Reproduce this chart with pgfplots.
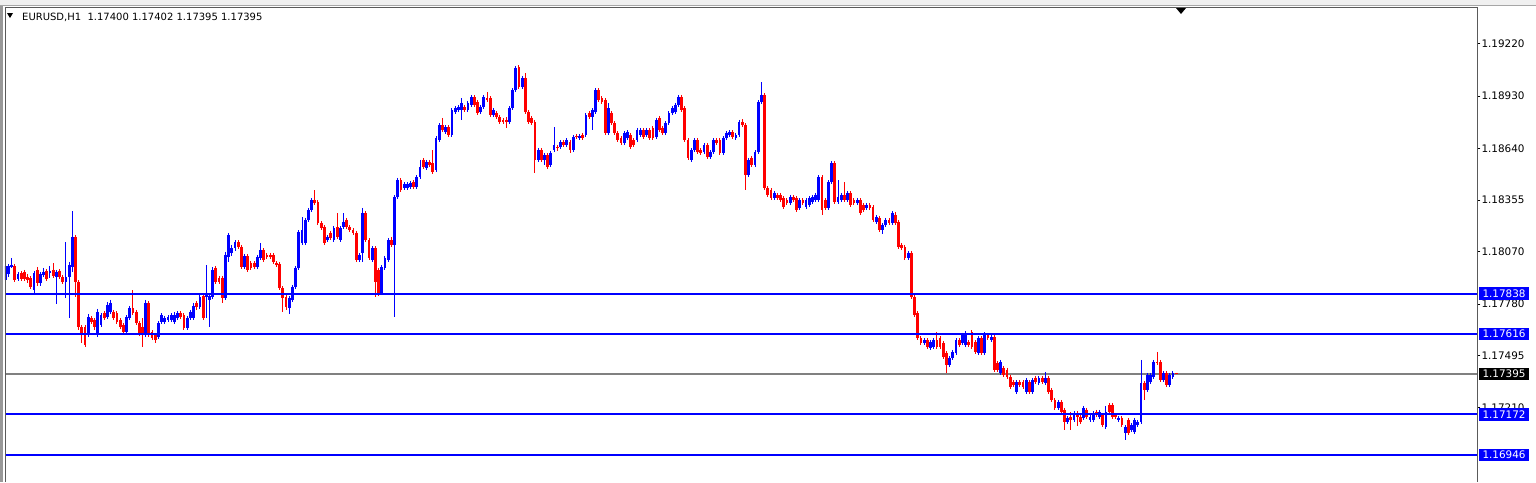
\documentclass[border=0pt]{standalone}
\usepackage{fontspec}
\setmainfont{DejaVu Sans}
\usepackage{pgfplots}
\pgfplotsset{compat=1.18}
\usepackage{pgfplotstable}
\definecolor{mtblue}{RGB}{0,0,255}
\definecolor{lvlblue}{RGB}{0,0,255}
\definecolor{mtred}{RGB}{255,0,0}
\definecolor{bidgray}{RGB}{128,128,128}
\definecolor{framegray}{RGB}{90,90,90}
\pgfplotstableread{
n o h l c
1 1.17913 1.18013 1.17897 1.17991
2 1.17947 1.18002 1.17930 1.17991
3 1.17985 1.18035 1.17980 1.17996
4 1.17991 1.18002 1.17902 1.17913
5 1.17919 1.17958 1.17908 1.17947
6 1.17952 1.17963 1.17908 1.17919
7 1.17958 1.17969 1.17908 1.17919
8 1.17930 1.17947 1.17897 1.17913
9 1.17925 1.17936 1.17864 1.17875
10 1.17858 1.17963 1.17842 1.17952
11 1.17969 1.17985 1.17880 1.17897
12 1.17897 1.17958 1.17880 1.17947
13 1.17941 1.17980 1.17930 1.17958
14 1.17963 1.17974 1.17908 1.17919
15 1.17952 1.17991 1.17925 1.17963
16 1.17969 1.18007 1.17925 1.17936
17 1.17930 1.17969 1.17781 1.17958
18 1.17963 1.17974 1.17919 1.17930
19 1.17930 1.17941 1.17891 1.17902
20 1.17902 1.18123 1.17814 1.17930
21 1.17930 1.18013 1.17704 1.17996
22 1.17985 1.18294 1.17958 1.18151
23 1.18151 1.18162 1.17820 1.17902
24 1.17902 1.17913 1.17637 1.17654
25 1.17654 1.17665 1.17566 1.17610
26 1.17654 1.17665 1.17544 1.17555
27 1.17610 1.17726 1.17599 1.17709
28 1.17704 1.17715 1.17671 1.17682
29 1.17693 1.17704 1.17637 1.17654
30 1.17610 1.17754 1.17599 1.17737
31 1.17665 1.17731 1.17654 1.17720
32 1.17731 1.17742 1.17693 1.17704
33 1.17709 1.17792 1.17698 1.17776
34 1.17737 1.17803 1.17726 1.17787
35 1.17737 1.17748 1.17693 1.17704
36 1.17731 1.17742 1.17671 1.17682
37 1.17693 1.17704 1.17643 1.17654
38 1.17665 1.17676 1.17615 1.17626
39 1.17626 1.17720 1.17610 1.17709
40 1.17704 1.17770 1.17693 1.17759
41 1.17759 1.17858 1.17720 1.17731
42 1.17737 1.17748 1.17665 1.17676
43 1.17676 1.17687 1.17604 1.17621
44 1.17654 1.17704 1.17544 1.17610
45 1.17610 1.17803 1.17599 1.17787
46 1.17787 1.17798 1.17599 1.17610
47 1.17626 1.17637 1.17582 1.17593
48 1.17610 1.17621 1.17566 1.17582
49 1.17599 1.17687 1.17588 1.17676
50 1.17682 1.17731 1.17671 1.17720
51 1.17682 1.17715 1.17671 1.17704
52 1.17693 1.17720 1.17682 1.17709
53 1.17693 1.17731 1.17682 1.17720
54 1.17682 1.17737 1.17671 1.17720
55 1.17704 1.17742 1.17693 1.17731
56 1.17731 1.17742 1.17698 1.17709
57 1.17720 1.17731 1.17637 1.17649
58 1.17649 1.17715 1.17637 1.17704
59 1.17704 1.17748 1.17693 1.17737
60 1.17704 1.17787 1.17693 1.17770
61 1.17787 1.17798 1.17748 1.17765
62 1.17765 1.17836 1.17754 1.17820
63 1.17825 1.17836 1.17693 1.17704
64 1.17820 1.17996 1.17704 1.17836
65 1.17803 1.17836 1.17654 1.17825
66 1.17820 1.17985 1.17809 1.17969
67 1.17980 1.17991 1.17891 1.17902
68 1.17925 1.17936 1.17891 1.17902
69 1.17925 1.17936 1.17787 1.17814
70 1.17814 1.18068 1.17803 1.18052
71 1.18041 1.18173 1.18013 1.18162
72 1.18063 1.18107 1.18046 1.18090
73 1.18090 1.18134 1.18074 1.18123
74 1.18123 1.18134 1.18085 1.18096
75 1.18096 1.18107 1.17974 1.17985
76 1.17985 1.18057 1.17974 1.18046
77 1.18046 1.18057 1.17958 1.17969
78 1.18007 1.18018 1.17969 1.17980
79 1.18007 1.18018 1.17974 1.17985
80 1.17985 1.18052 1.17974 1.18041
81 1.18035 1.18118 1.18024 1.18079
82 1.18079 1.18090 1.18013 1.18024
83 1.18052 1.18063 1.18030 1.18041
84 1.18052 1.18063 1.18030 1.18041
85 1.18052 1.18063 1.18002 1.18013
86 1.18007 1.18018 1.17985 1.17996
87 1.18002 1.18013 1.17858 1.17869
88 1.17869 1.17880 1.17737 1.17814
89 1.17820 1.17831 1.17748 1.17765
90 1.17759 1.17825 1.17726 1.17814
91 1.17803 1.17886 1.17792 1.17875
92 1.17875 1.17991 1.17864 1.17980
93 1.17980 1.18189 1.17969 1.18178
94 1.18118 1.18261 1.18107 1.18189
95 1.18118 1.18256 1.18107 1.18245
96 1.18245 1.18311 1.18234 1.18300
97 1.18300 1.18366 1.18289 1.18355
98 1.18355 1.18410 1.18327 1.18339
99 1.18344 1.18355 1.18217 1.18228
100 1.18228 1.18239 1.18189 1.18201
101 1.18206 1.18217 1.18107 1.18118
102 1.18134 1.18162 1.18123 1.18151
103 1.18173 1.18184 1.18134 1.18145
104 1.18134 1.18212 1.18123 1.18201
105 1.18206 1.18283 1.18140 1.18151
106 1.18134 1.18212 1.18123 1.18201
107 1.18206 1.18283 1.18195 1.18234
108 1.18245 1.18256 1.18195 1.18206
109 1.18206 1.18217 1.18178 1.18189
110 1.18189 1.18201 1.18162 1.18173
111 1.18173 1.18184 1.18013 1.18024
112 1.18024 1.18063 1.18013 1.18052
113 1.18063 1.18311 1.18013 1.18283
114 1.18283 1.18294 1.18123 1.18134
115 1.18134 1.18145 1.18024 1.18035
116 1.18024 1.18101 1.18013 1.18090
117 1.18090 1.18101 1.17820 1.17902
118 1.17969 1.17980 1.17825 1.17842
119 1.17842 1.17996 1.17831 1.17985
120 1.17980 1.18046 1.17969 1.18035
121 1.18024 1.18145 1.18013 1.18134
122 1.18134 1.18151 1.18096 1.18107
123 1.18107 1.18383 1.17709 1.18372
124 1.18372 1.18477 1.18361 1.18465
125 1.18465 1.18477 1.18399 1.18410
126 1.18421 1.18454 1.18410 1.18443
127 1.18421 1.18454 1.18410 1.18443
128 1.18427 1.18460 1.18416 1.18449
129 1.18454 1.18465 1.18416 1.18427
130 1.18427 1.18493 1.18416 1.18482
131 1.18482 1.18576 1.18471 1.18537
132 1.18576 1.18587 1.18526 1.18537
133 1.18532 1.18576 1.18521 1.18565
134 1.18565 1.18576 1.18537 1.18548
135 1.18559 1.18631 1.18499 1.18510
136 1.18521 1.18708 1.18510 1.18697
137 1.18686 1.18780 1.18675 1.18769
138 1.18769 1.18808 1.18730 1.18741
139 1.18730 1.18769 1.18719 1.18758
140 1.18758 1.18769 1.18703 1.18714
141 1.18714 1.18863 1.18703 1.18852
142 1.18841 1.18874 1.18830 1.18863
143 1.18852 1.18880 1.18841 1.18869
144 1.18852 1.18918 1.18797 1.18891
145 1.18869 1.18880 1.18841 1.18852
146 1.18852 1.18902 1.18841 1.18891
147 1.18880 1.18935 1.18869 1.18924
148 1.18924 1.18935 1.18869 1.18880
149 1.18896 1.18907 1.18824 1.18835
150 1.18841 1.18880 1.18830 1.18869
151 1.18869 1.18935 1.18858 1.18924
152 1.18918 1.18951 1.18896 1.18907
153 1.18918 1.18929 1.18813 1.18824
154 1.18824 1.18863 1.18813 1.18852
155 1.18835 1.18846 1.18802 1.18813
156 1.18813 1.18824 1.18775 1.18786
157 1.18797 1.18808 1.18775 1.18786
158 1.18797 1.18813 1.18753 1.18786
159 1.18786 1.18874 1.18775 1.18863
160 1.18863 1.18973 1.18852 1.18962
161 1.18962 1.19095 1.18951 1.19084
162 1.19089 1.19100 1.18968 1.18979
163 1.18979 1.19040 1.18968 1.19029
164 1.19029 1.19056 1.18830 1.18841
165 1.18841 1.18852 1.18775 1.18786
166 1.18808 1.18819 1.18769 1.18780
167 1.18786 1.18797 1.18504 1.18576
168 1.18576 1.18642 1.18565 1.18631
169 1.18631 1.18642 1.18565 1.18576
170 1.18576 1.18615 1.18548 1.18604
171 1.18604 1.18615 1.18526 1.18537
172 1.18548 1.18626 1.18537 1.18615
173 1.18631 1.18758 1.18620 1.18659
174 1.18648 1.18659 1.18626 1.18642
175 1.18648 1.18686 1.18637 1.18675
176 1.18675 1.18686 1.18648 1.18659
177 1.18659 1.18697 1.18648 1.18686
178 1.18675 1.18686 1.18615 1.18631
179 1.18631 1.18714 1.18620 1.18703
180 1.18708 1.18719 1.18692 1.18703
181 1.18697 1.18719 1.18686 1.18708
182 1.18714 1.18725 1.18686 1.18697
183 1.18714 1.18835 1.18703 1.18824
184 1.18835 1.18846 1.18802 1.18813
185 1.18813 1.18863 1.18741 1.18852
186 1.18841 1.18973 1.18830 1.18962
187 1.18962 1.18973 1.18896 1.18907
188 1.18918 1.18929 1.18885 1.18896
189 1.18907 1.18918 1.18714 1.18725
190 1.18725 1.18891 1.18714 1.18863
191 1.18835 1.18846 1.18769 1.18780
192 1.18780 1.18791 1.18714 1.18725
193 1.18725 1.18736 1.18675 1.18686
194 1.18697 1.18708 1.18659 1.18670
195 1.18670 1.18736 1.18659 1.18725
196 1.18697 1.18741 1.18686 1.18730
197 1.18714 1.18725 1.18637 1.18648
198 1.18686 1.18697 1.18648 1.18659
199 1.18686 1.18753 1.18675 1.18741
200 1.18714 1.18753 1.18703 1.18741
201 1.18741 1.18753 1.18692 1.18703
202 1.18714 1.18753 1.18703 1.18741
203 1.18741 1.18753 1.18686 1.18697
204 1.18753 1.18764 1.18686 1.18697
205 1.18703 1.18808 1.18692 1.18797
206 1.18808 1.18819 1.18730 1.18741
207 1.18753 1.18764 1.18714 1.18725
208 1.18725 1.18791 1.18714 1.18780
209 1.18780 1.18846 1.18769 1.18835
210 1.18835 1.18874 1.18824 1.18863
211 1.18841 1.18891 1.18830 1.18880
212 1.18880 1.18935 1.18869 1.18924
213 1.18924 1.18935 1.18841 1.18852
214 1.18863 1.18874 1.18675 1.18686
215 1.18686 1.18697 1.18576 1.18587
216 1.18576 1.18642 1.18565 1.18631
217 1.18631 1.18697 1.18620 1.18686
218 1.18686 1.18697 1.18609 1.18620
219 1.18631 1.18642 1.18604 1.18615
220 1.18620 1.18670 1.18609 1.18659
221 1.18659 1.18670 1.18582 1.18593
222 1.18593 1.18631 1.18582 1.18620
223 1.18620 1.18697 1.18609 1.18686
224 1.18686 1.18697 1.18659 1.18670
225 1.18686 1.18697 1.18604 1.18615
226 1.18615 1.18708 1.18604 1.18697
227 1.18697 1.18736 1.18686 1.18725
228 1.18714 1.18741 1.18703 1.18730
229 1.18730 1.18741 1.18692 1.18703
230 1.18697 1.18725 1.18686 1.18714
231 1.18714 1.18797 1.18703 1.18786
232 1.18786 1.18802 1.18758 1.18769
233 1.18769 1.18780 1.18410 1.18493
234 1.18493 1.18587 1.18482 1.18576
235 1.18587 1.18598 1.18537 1.18548
236 1.18548 1.18631 1.18537 1.18620
237 1.18620 1.18907 1.18609 1.18896
238 1.18896 1.19006 1.18885 1.18935
239 1.18935 1.18946 1.18410 1.18421
240 1.18421 1.18432 1.18372 1.18383
241 1.18410 1.18421 1.18355 1.18366
242 1.18366 1.18405 1.18355 1.18394
243 1.18383 1.18394 1.18355 1.18366
244 1.18383 1.18394 1.18344 1.18355
245 1.18366 1.18377 1.18305 1.18316
246 1.18355 1.18366 1.18327 1.18339
247 1.18339 1.18383 1.18327 1.18372
248 1.18372 1.18383 1.18344 1.18355
249 1.18366 1.18377 1.18289 1.18300
250 1.18311 1.18366 1.18300 1.18355
251 1.18355 1.18366 1.18327 1.18339
252 1.18316 1.18366 1.18305 1.18355
253 1.18327 1.18377 1.18316 1.18366
254 1.18344 1.18383 1.18333 1.18372
255 1.18355 1.18394 1.18344 1.18383
256 1.18355 1.18493 1.18344 1.18482
257 1.18482 1.18493 1.18272 1.18300
258 1.18355 1.18366 1.18300 1.18311
259 1.18311 1.18465 1.18300 1.18454
260 1.18454 1.18570 1.18443 1.18559
261 1.18559 1.18570 1.18333 1.18344
262 1.18344 1.18465 1.18333 1.18372
263 1.18355 1.18394 1.18344 1.18383
264 1.18383 1.18454 1.18344 1.18355
265 1.18355 1.18405 1.18344 1.18394
266 1.18394 1.18405 1.18316 1.18327
267 1.18355 1.18366 1.18327 1.18339
268 1.18339 1.18366 1.18327 1.18355
269 1.18355 1.18366 1.18272 1.18283
270 1.18327 1.18339 1.18289 1.18300
271 1.18311 1.18339 1.18300 1.18327
272 1.18327 1.18339 1.18300 1.18311
273 1.18316 1.18327 1.18234 1.18245
274 1.18234 1.18272 1.18223 1.18261
275 1.18256 1.18267 1.18178 1.18189
276 1.18189 1.18228 1.18167 1.18217
277 1.18217 1.18256 1.18206 1.18245
278 1.18245 1.18256 1.18217 1.18228
279 1.18228 1.18294 1.18217 1.18283
280 1.18272 1.18289 1.18217 1.18228
281 1.18234 1.18245 1.18085 1.18096
282 1.18107 1.18118 1.18079 1.18090
283 1.18096 1.18107 1.18024 1.18035
284 1.18035 1.18074 1.18024 1.18063
285 1.18063 1.18074 1.17809 1.17820
286 1.17820 1.17831 1.17709 1.17720
287 1.17731 1.17742 1.17582 1.17593
288 1.17593 1.17604 1.17555 1.17566
289 1.17566 1.17593 1.17555 1.17582
290 1.17582 1.17593 1.17533 1.17544
291 1.17538 1.17582 1.17527 1.17571
292 1.17544 1.17593 1.17533 1.17582
293 1.17582 1.17626 1.17533 1.17544
294 1.17593 1.17604 1.17533 1.17544
295 1.17566 1.17577 1.17477 1.17488
296 1.17511 1.17522 1.17400 1.17444
297 1.17444 1.17494 1.17433 1.17483
298 1.17483 1.17527 1.17472 1.17516
299 1.17511 1.17593 1.17499 1.17582
300 1.17582 1.17593 1.17544 1.17555
301 1.17566 1.17621 1.17555 1.17610
302 1.17555 1.17632 1.17544 1.17621
303 1.17571 1.17582 1.17544 1.17555
304 1.17626 1.17637 1.17533 1.17544
305 1.17571 1.17582 1.17505 1.17516
306 1.17511 1.17604 1.17499 1.17593
307 1.17593 1.17604 1.17499 1.17511
308 1.17511 1.17626 1.17499 1.17610
309 1.17610 1.17621 1.17582 1.17593
310 1.17582 1.17610 1.17571 1.17599
311 1.17599 1.17610 1.17406 1.17417
312 1.17455 1.17466 1.17406 1.17417
313 1.17400 1.17472 1.17389 1.17461
314 1.17428 1.17439 1.17378 1.17389
315 1.17417 1.17428 1.17367 1.17378
316 1.17378 1.17389 1.17312 1.17323
317 1.17350 1.17361 1.17323 1.17334
318 1.17295 1.17361 1.17284 1.17350
319 1.17350 1.17361 1.17323 1.17334
320 1.17350 1.17361 1.17312 1.17323
321 1.17295 1.17373 1.17284 1.17361
322 1.17350 1.17361 1.17284 1.17295
323 1.17295 1.17373 1.17284 1.17361
324 1.17373 1.17384 1.17339 1.17350
325 1.17345 1.17384 1.17334 1.17373
326 1.17373 1.17384 1.17339 1.17350
327 1.17345 1.17406 1.17334 1.17373
328 1.17373 1.17384 1.17284 1.17295
329 1.17306 1.17317 1.17240 1.17251
330 1.17251 1.17262 1.17196 1.17207
331 1.17207 1.17251 1.17196 1.17240
332 1.17240 1.17251 1.17174 1.17185
333 1.17196 1.17207 1.17085 1.17130
334 1.17130 1.17163 1.17119 1.17152
335 1.17157 1.17185 1.17085 1.17141
336 1.17141 1.17190 1.17130 1.17179
337 1.17179 1.17190 1.17108 1.17157
338 1.17157 1.17168 1.17119 1.17130
339 1.17152 1.17218 1.17141 1.17207
340 1.17196 1.17207 1.17146 1.17157
341 1.17141 1.17168 1.17130 1.17157
342 1.17141 1.17190 1.17130 1.17179
343 1.17185 1.17196 1.17157 1.17168
344 1.17157 1.17196 1.17146 1.17185
345 1.17168 1.17179 1.17102 1.17113
346 1.17102 1.17218 1.17091 1.17185
347 1.17224 1.17235 1.17174 1.17185
348 1.17224 1.17235 1.17146 1.17157
349 1.17168 1.17179 1.17146 1.17157
350 1.17141 1.17163 1.17130 1.17152
351 1.17152 1.17163 1.17102 1.17113
352 1.17069 1.17113 1.17030 1.17102
353 1.17141 1.17152 1.17058 1.17069
354 1.17085 1.17124 1.17074 1.17113
355 1.17074 1.17152 1.17063 1.17141
356 1.17113 1.17141 1.17102 1.17130
357 1.17130 1.17472 1.17119 1.17345
358 1.17345 1.17356 1.17251 1.17306
359 1.17306 1.17400 1.17295 1.17389
360 1.17350 1.17400 1.17339 1.17389
361 1.17378 1.17472 1.17367 1.17461
362 1.17461 1.17516 1.17444 1.17455
363 1.17461 1.17472 1.17350 1.17361
364 1.17361 1.17411 1.17350 1.17400
365 1.17400 1.17411 1.17323 1.17334
366 1.17334 1.17400 1.17323 1.17389
367 1.17378 1.17411 1.17367 1.17400
368 1.17400 1.17402 1.17395 1.17395
}\candles
\pgfplotstableread{
x y
0.9 1.17838
462.4 1.17838
0.9 nan
0.9 1.17616
462.4 1.17616
0.9 nan
0.9 1.17172
462.4 1.17172
0.9 nan
0.9 1.16946
462.4 1.16946
}\levels
\newcommand\tickfont{\fontsize{10.4}{12}\selectfont}
\begin{document}
\begin{tikzpicture}[x=1pt,y=1pt]
\path[use as bounding box] (0,-482) rectangle (1536,0);
\fill[white] (0,-482) rectangle (1536,0);
\fill[black!6] (0,0) rectangle (1536,-6);
\draw[black!35, line width=1pt] (0,-5.5) -- (1536,-5.5);
\fill[black!40] (0,-482) rectangle (3,-6);
\begin{axis}[
  at={(5pt,-482pt)}, anchor=south west,
  scale only axis, width=1472.3pt, height=474.7pt,
  xmin=0.9, xmax=462.4, ymin=1.16798, ymax=1.19419,
  axis line style={draw=none},
  xtick=\empty,
  ytick={1.19220,1.18930,1.18640,1.18355,1.18070,1.17780,1.17495,1.17210},
  yticklabels={1.19220,1.18930,1.18640,1.18355,1.18070,1.17780,1.17495,1.17210},
  ytick pos=right, yticklabel pos=right,
  tick align=outside, major tick length=3pt,
  tick style={black, line width=0.6pt},
  yticklabel style={font=\tickfont, anchor=west, inner sep=0pt, xshift=1pt},
  clip=true,
  candle/.style={draw=none, no markers,
    error bars/y dir=minus, error bars/y explicit, error bars/error mark=none},
]
% bid line
\addplot[draw=bidgray, line width=1.6pt, no markers] coordinates {(0.9,1.17395) (462.4,1.17395)};
% bullish candles
\addplot[candle, error bars/error bar style={draw=mtblue, line width=1pt},
  restrict expr to domain={\thisrow{c}-\thisrow{o}}{0:1}]
  table[x=n, y=h, y error expr=\thisrow{h}-\thisrow{l}] {\candles};
\addplot[candle, error bars/error bar style={draw=mtblue, line width=2.8pt},
  restrict expr to domain={\thisrow{c}-\thisrow{o}}{0:1}]
  table[x=n, y=c, y error expr=\thisrow{c}-\thisrow{o}] {\candles};
% bearish candles
\addplot[candle, error bars/error bar style={draw=mtred, line width=1pt},
  restrict expr to domain={\thisrow{c}-\thisrow{o}}{-1:-0.0000001}]
  table[x=n, y=h, y error expr=\thisrow{h}-\thisrow{l}] {\candles};
\addplot[candle, error bars/error bar style={draw=mtred, line width=2.8pt},
  restrict expr to domain={\thisrow{c}-\thisrow{o}}{-1:-0.0000001}]
  table[x=n, y=o, y error expr=\thisrow{o}-\thisrow{c}] {\candles};
% horizontal levels
\addplot[color=lvlblue, line width=2pt, no markers, unbounded coords=jump] table[x=x, y=y] {\levels};
\coordinate (r1) at (axis cs:462.4,1.17838);
\coordinate (r2) at (axis cs:462.4,1.17616);
\coordinate (r3) at (axis cs:462.4,1.17395);
\coordinate (r4) at (axis cs:462.4,1.17172);
\coordinate (r5) at (axis cs:462.4,1.16946);
\end{axis}
\draw[framegray, line width=1pt] (5,-482) -- (5,-7.3) -- (1477.3,-7.3) -- (1477.3,-482);
\tikzset{lvl/.style={anchor=west, minimum width=50pt, minimum height=12.5pt, inner sep=0pt, text=white, font=\tickfont}}
\node[lvl, fill=mtblue] at ([xshift=1.5pt]r1) {1.17838};
\node[lvl, fill=mtblue] at ([xshift=1.5pt]r2) {1.17616};
\node[lvl, fill=black] at ([xshift=1.5pt]r3) {1.17395};
\node[lvl, fill=mtblue] at ([xshift=1.5pt]r4) {1.17172};
\node[lvl, fill=mtblue] at ([xshift=1.5pt]r5) {1.16946};
\fill[black] (7,-13) -- (13,-13) -- (10,-18) -- cycle;
\node[anchor=base west, inner sep=0pt, font=\fontsize{10}{12}\selectfont] at (22,-20.7) {EURUSD,H1\ \ 1.17400 1.17402 1.17395 1.17395};
\fill[black] (1176,-8) -- (1186,-8) -- (1181,-14) -- cycle;
\end{tikzpicture}
\end{document}
